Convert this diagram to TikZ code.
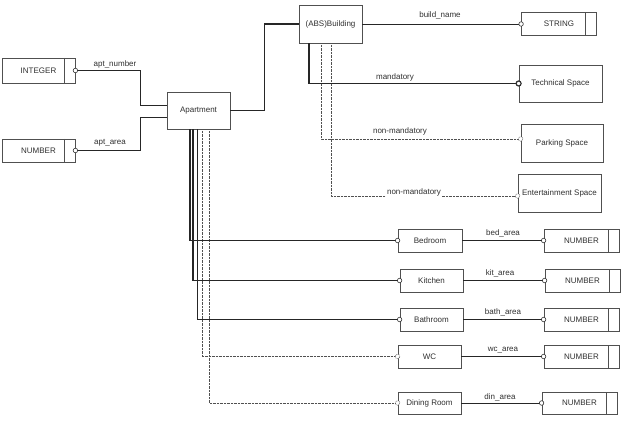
\documentclass[tikz,border=0pt]{standalone}
\usepackage{fontspec}
\setmainfont{Liberation Sans}
\definecolor{boxgray}{HTML}{505050}
\definecolor{txtgray}{HTML}{303030}
\definecolor{dotgray}{HTML}{505050}
\begin{document}
\begin{tikzpicture}[x=1pt,y=-1pt,
  font=\fontsize{8}{9.5}\selectfont,
  sz/.style 2 args={minimum width=#1pt, minimum height=#2pt},
  box/.style={draw=boxgray, line width=0.8pt, fill=white, inner sep=0pt, text=txtgray},
  typebox/.style={box, path picture={\draw[boxgray, line width=0.8pt]
      ([xshift=-11pt]path picture bounding box.north east) --
      ([xshift=-11pt]path picture bounding box.south east);}},
  thin/.style={draw=black!85, line width=0.7pt},
  thick/.style={draw=black!85, line width=1.6pt},
  dots/.style={draw=dotgray, line width=0.7pt, dash pattern=on 0.5pt off 0.9pt},
  port/.style={circle, draw=black!80, fill=white, line width=0.6pt, inner sep=0pt, minimum size=4.5pt},
  bigport/.style={port, line width=1.2pt, minimum size=5pt},
  lbl/.style={text=txtgray, inner sep=1pt}
]
\path[fill=white] (0,0) rectangle (623,422);
\useasboundingbox (0,0) rectangle (623,422);

% entities
\node[box, sz={63}{37}] (apt) at (198.5,110.5) {Apartment};
\node[box, sz={63}{38}] (bld) at (330.5,24) {(ABS)Building};
\node[box, sz={83}{37}] (tech) at (560.5,83.5) {Technical Space};
\node[box, sz={82}{38}] (park) at (562,143) {Parking Space};
\node[box, sz={83}{38}] (ent) at (559.5,193) {Entertainment Space};
\node[box, sz={64}{23}] (bed) at (430,240.5) {Bedroom};
\node[box, sz={63}{23}] (kit) at (431.5,280.5) {Kitchen};
\node[box, sz={63}{23}] (bath) at (431.5,319.5) {Bathroom};
\node[box, sz={63}{23}] (wc) at (429.5,356.5) {WC};
\node[box, sz={63}{22}] (din) at (429.5,403) {Dining Room};

% value types
\node[typebox, sz={73}{25}] (int) at (38.5,70.5) {INTEGER\hspace{11pt}};
\node[typebox, sz={73}{23}] (anum) at (38.5,150.5) {NUMBER\hspace{11pt}};
\node[typebox, sz={75}{23}] (str) at (559,24) {STRING\hspace{11pt}};
\node[typebox, sz={75}{23}] (bednum) at (581.5,240.5) {NUMBER\hspace{11pt}};
\node[typebox, sz={75}{23}] (kitnum) at (582.5,280.5) {NUMBER\hspace{11pt}};
\node[typebox, sz={75}{23}] (bathnum) at (581.5,319.5) {NUMBER\hspace{11pt}};
\node[typebox, sz={75}{23}] (wcnum) at (581.5,356.5) {NUMBER\hspace{11pt}};
\node[typebox, sz={75}{22}] (dinnum) at (579.5,403) {NUMBER\hspace{11pt}};

% apartment attributes
\draw[thin] (int.east) -- ++(65,0) |- ([yshift=5.5pt]apt.west);
\node[port] at (int.east) {};
\draw[thin] (anum.east) -- ++(65,0) |- ([yshift=-6.5pt]apt.west);
\node[port] at (anum.east) {};
\node[lbl] (lapt1) at (115,64) {apt\_number};
\node[lbl] (lapt2) at (110,143) {apt\_area};

% apartment to building
\draw[thick] (apt.east) -- ++(34,0) |- (bld.west);

% building attributes and parts
\draw[thin] (bld.east) -- (str.west) node[port] {};
\node[lbl] (lbn) at (440,15) {build\_name};
\draw[dots] ([xshift=-9.5pt]bld.south) |- ([yshift=4pt]park.west) node[port] {};
\draw[dots] ([xshift=0.5pt]bld.south) |- ([yshift=-3pt]ent.west) node[port] {};
\draw[thick] ([xshift=-21.5pt]bld.south) |- (tech.west) node[bigport] {};
\node[lbl] (lmand) at (395,77) {mandatory};
\node[lbl] (lnm1) at (400,131) {non-mandatory};
\node[lbl, fill=white] (lnm2) at (414,192) {non-mandatory};

% rooms of the apartment
\draw[dots] ([xshift=10.5pt]apt.south) |- (din.west) node[port] {};
\draw[dots] ([xshift=3.5pt]apt.south) |- (wc.west) node[port] {};
\draw[thin] ([xshift=-1.5pt]apt.south) |- (bath.west) node[port] {};
\draw[thick] ([xshift=-5.5pt]apt.south) |- (kit.west) node[port] {};
\draw[thick] ([xshift=-8.5pt]apt.south) |- (bed.west) node[port] {};

% room areas
\draw[thin] (bed.east) -- (bednum.west) node[port] {};
\draw[thin] (kit.east) -- (kitnum.west) node[port] {};
\draw[thin] (bath.east) -- (bathnum.west) node[port] {};
\draw[thin] (wc.east) -- (wcnum.west) node[port] {};
\draw[thin] (din.east) -- (dinnum.west) node[port] {};
\node[lbl] (lbed) at (503,233) {bed\_area};
\node[lbl] (lkit) at (500,273) {kit\_area};
\node[lbl] (lbath) at (503,312) {bath\_area};
\node[lbl] (lwc) at (503,350) {wc\_area};
\node[lbl] (ldin) at (500,397) {din\_area};
\end{tikzpicture}
\end{document}
